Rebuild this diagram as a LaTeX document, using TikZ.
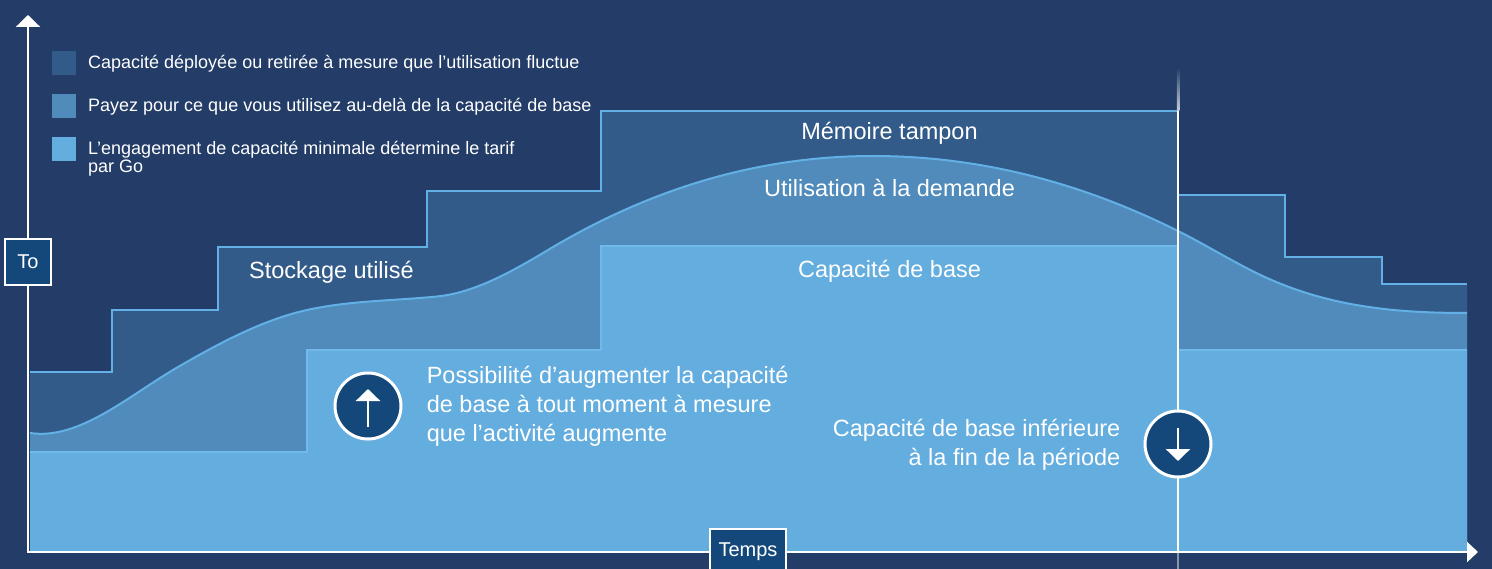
\documentclass[tikz,border=0pt]{standalone}
\usepackage{fontspec}
\setmainfont{Liberation Sans}
\usetikzlibrary{arrows.meta}
\definecolor{bgnavy}{HTML}{233D68}
\definecolor{stepfill}{HTML}{335B8A}
\definecolor{demandfill}{HTML}{508BBB}
\definecolor{basefill}{HTML}{64ADDF}
\definecolor{edgeblue}{HTML}{62B0E5}
\definecolor{baseedge}{HTML}{70B9EA}
\definecolor{badge}{HTML}{14487A}
\begin{document}
\begin{tikzpicture}[x=1pt,y=-1pt,
  legtext/.style={font=\fontsize{18pt}{18pt}\selectfont, text=white, inner sep=0},
  biglabel/.style={font=\fontsize{23.5pt}{29pt}\selectfont, text=white, inner sep=0},
  legbox/.style={fill=#1, minimum size=24pt, inner sep=0, draw=none},
  tagbox/.style={fill=badge, draw=white, line width=2pt, text=white, font=\fontsize{20pt}{20pt}\selectfont, inner sep=0, minimum height=46pt},
  badgecirc/.style={circle, fill=badge, draw=white, line width=3pt, minimum size=66pt, inner sep=0},
  badgearrow/.style={draw=white, line width=2.8pt, -{Triangle[width=24pt,length=12pt]}},
  stepedge/.style={draw=edgeblue, line width=2pt, line join=miter},
]
% background
\fill[bgnavy] (0,0) rectangle (1492,569);
\useasboundingbox (0,0) rectangle (1492,569);

% buffer (steps)
\fill[stepfill] (30,552) -- (30,372) -- (112,372) -- (112,310) -- (218,310) -- (218,247)
  -- (427,247) -- (427,191) -- (601,191) -- (601,111) -- (1178,111) -- (1178,195)
  -- (1285,195) -- (1285,257) -- (1382,257) -- (1382,284) -- (1467,284) -- (1467,552) -- cycle;
\draw[stepedge] (30,372) -- (112,372) -- (112,310) -- (218,310) -- (218,247)
  -- (427,247) -- (427,191) -- (601,191) -- (601,111) -- (1178,111) -- (1178,195)
  -- (1285,195) -- (1285,257) -- (1382,257) -- (1382,284) -- (1467,284);

% on-demand usage curve
\fill[demandfill] (30,552) -- (30,433)
  .. controls (79.3,440.4) and (128.7,395.6) .. (178,367)
  .. controls (221,342.1) and (264,319.5) .. (307,310)
  .. controls (350.3,300.5) and (393.7,300.8) .. (437,296.5)
  .. controls (474,292.8) and (511,272.2) .. (548,250)
  .. controls (656.3,185) and (764.7,156) .. (873,156)
  .. controls (974.7,156) and (1076.3,180.2) .. (1178,231)
  .. controls (1207.7,245.8) and (1237.3,264.6) .. (1267,278)
  .. controls (1333.7,308) and (1400.3,313) .. (1467,313)
  -- (1467,552) -- cycle;
\draw[edgeblue, line width=2pt] (30,433)
  .. controls (79.3,440.4) and (128.7,395.6) .. (178,367)
  .. controls (221,342.1) and (264,319.5) .. (307,310)
  .. controls (350.3,300.5) and (393.7,300.8) .. (437,296.5)
  .. controls (474,292.8) and (511,272.2) .. (548,250)
  .. controls (656.3,185) and (764.7,156) .. (873,156)
  .. controls (974.7,156) and (1076.3,180.2) .. (1178,231)
  .. controls (1207.7,245.8) and (1237.3,264.6) .. (1267,278)
  .. controls (1333.7,308) and (1400.3,313) .. (1467,313);

% base capacity
\fill[basefill] (30,552) -- (30,452) -- (307,452) -- (307,350) -- (601,350) -- (601,246)
  -- (1178,246) -- (1178,350) -- (1467,350) -- (1467,552) -- cycle;
\draw[baseedge, line width=1.5pt] (30,452) -- (307,452) -- (307,350) -- (601,350) -- (601,246)
  -- (1178,246) -- (1178,350) -- (1467,350);

% end of period line
\shade[top color=bgnavy, bottom color=white!75!bgnavy] (1176.75,67) rectangle (1179.25,111);
\draw[white, line width=2.5pt] (1178,111) -- (1178,552);
\draw[white, opacity=0.45, line width=2pt] (1178,552) -- (1178,569);

% axes
\coordinate (origin) at (28,552);
\coordinate (ytip) at (28,15);
\coordinate (xtip) at (1478,552);
\draw[white, line width=2.5pt, line join=miter,
  {Triangle[width=24pt,length=12pt]}-{Triangle[width=20pt,length=11pt]}] (ytip) -- (origin) -- (xtip);

% axis tags
\node[tagbox, minimum width=46pt] (to) at (28,262) {To};
\node[tagbox, minimum width=76pt] (temps) at (748,552) {Temps};

% legend
\node[legbox=stepfill] (lb1) at (64,63) {};
\node[legbox=demandfill] (lb2) at (64,106) {};
\node[legbox=basefill] (lb3) at (64,149) {};
\node[legtext, anchor=base west] (lt1) at (88,68.3) {Capacité déployée ou retirée à mesure que l’utilisation fluctue};
\node[legtext, anchor=base west] (lt2) at (88,111.7) {Payez pour ce que vous utilisez au-delà de la capacité de base};
\node[legtext, anchor=base west] (lt3) at (88,155) {\begin{tabular}[t]{@{}l@{}}L’engagement de capacité minimale détermine le tarif\\par Go\end{tabular}};

% area labels
\node[biglabel, anchor=base west] (stock) at (249,278.3) {Stockage utilisé};
\node[biglabel, anchor=base] (buffer) at (889.5,140) {Mémoire tampon};
\node[biglabel, anchor=base] (demand) at (889.5,196.7) {Utilisation à la demande};
\node[biglabel, anchor=base] (base) at (889.5,277.5) {Capacité de base};
\node[biglabel, anchor=base west] (raise) at (426.6,383.5) {\begin{tabular}[t]{@{}l@{}}Possibilité d’augmenter la capacité\\de base à tout moment à mesure\\que l’activité augmente\end{tabular}};
\node[biglabel, anchor=base east] (lower) at (1120.5,436.7) {\begin{tabular}[t]{@{}r@{}}Capacité de base inférieure\\à la fin de la période\end{tabular}};

% badges
\node[badgecirc] (upc) at (368,406) {};
\draw[badgearrow] ([yshift=-21pt]upc.center) -- ([yshift=17pt]upc.center);
\node[badgecirc] (downc) at (1178,444) {};
\draw[badgearrow] ([yshift=16pt]downc.center) -- ([yshift=-17pt]downc.center);
\end{tikzpicture}
\end{document}
